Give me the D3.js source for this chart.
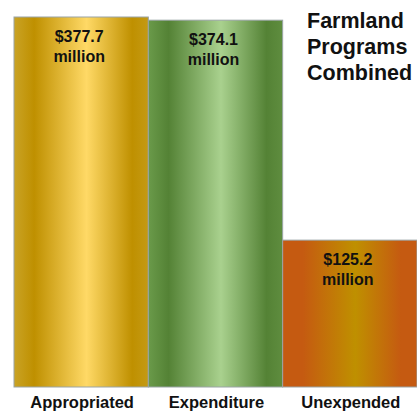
<!DOCTYPE html>
<html>
<head>
<meta charset="utf-8">
<script src="https://cdn.jsdelivr.net/npm/d3@7"></script>
<style>
  body { margin: 0; background: #fff; }
  svg { display: block; font-family: "Liberation Sans", Arial, sans-serif; }
</style>
</head>
<body>
<svg id="main_svg" width="417" height="411"></svg>
<script>
// chart data
var categories = ["Appropriated", "Expenditure", "Unexpended"];
var values = [377.7, 374.1, 125.2];
var valueLabels = ["$377.7", "$374.1", "$125.2"];
var titleLines = ["Farmland", "Programs", "Combined"];

// gradient stops for each bar (edge / dark / light / dark / edge)
var gradients = [
    ["#c9a326", "#bf9000", "#ffd966", "#bf9000", "#c49a14"],
    ["#6a9a4a", "#548235", "#a9d18e", "#548235", "#5f8d3f"],
    ["#c55a11", "#c55a11", "#bf9000", "#c55a11", "#c55a11"]
];
var stopOffsets = [0, 0.15, 0.54, 0.88, 1];

var svg = d3.select("#main_svg");

var x = d3.scaleBand()
    .domain(categories)
    .range([14, 417])
    .padding(0);

// original slide is not drawn to scale: the axis starts below zero
var y = d3.scaleLinear()
    .domain([-41, 377.7])
    .range([387, 17]);

var defs = svg.append("defs");
gradients.forEach(function(g, i) {
    var lg = defs.append("linearGradient")
        .attr("id", "grad" + i)
        .attr("x1", "0%").attr("x2", "100%")
        .attr("y1", "0%").attr("y2", "0%");
    g.forEach(function(c, j) {
        lg.append("stop")
            .attr("offset", stopOffsets[j])
            .attr("stop-color", c);
    });
});

var bars = svg.append("g").attr("id", "bars");

bars.selectAll("rect")
    .data(values)
    .enter()
    .append("rect")
    .attr("x", function(d, i) { return x(categories[i]); })
    .attr("y", function(d) { return y(d); })
    .attr("width", x.bandwidth())
    .attr("height", function(d) { return y.range()[0] - y(d); })
    .attr("fill", function(d, i) { return "url(#grad" + i + ")"; })
    .attr("stroke", "#9aa4a6")
    .attr("stroke-width", 1);

// value labels inside bars
var labels = svg.append("g")
    .attr("font-weight", "bold")
    .attr("font-size", 16)
    .attr("text-anchor", "middle")
    .attr("fill", "#111");

labels.selectAll("text.val")
    .data(values)
    .enter()
    .append("text")
    .attr("class", "val")
    .attr("x", function(d, i) { return x(categories[i]) + x.bandwidth() / 2 - 2; })
    .attr("y", function(d) { return y(d) + 25; })
    .text(function(d, i) { return valueLabels[i]; });

labels.selectAll("text.unit")
    .data(values)
    .enter()
    .append("text")
    .attr("class", "unit")
    .attr("x", function(d, i) { return x(categories[i]) + x.bandwidth() / 2 - 2; })
    .attr("y", function(d) { return y(d) + 45; })
    .text("million");

// category labels
svg.append("g")
    .attr("font-weight", "bold")
    .attr("font-size", 16.5)
    .attr("text-anchor", "middle")
    .attr("fill", "#111")
    .selectAll("text")
    .data(categories)
    .enter()
    .append("text")
    .attr("x", function(d) { return x(d) + x.bandwidth() / 2 + 1; })
    .attr("y", 408)
    .text(function(d) { return d; });

// title, left aligned in the top right corner
svg.append("g")
    .attr("font-weight", "bold")
    .attr("font-size", 21.5)
    .attr("fill", "#111")
    .selectAll("text")
    .data(titleLines)
    .enter()
    .append("text")
    .attr("x", 307)
    .attr("y", function(d, i) { return 28 + i * 26; })
    .text(function(d) { return d; });
</script>
</body>
</html>
